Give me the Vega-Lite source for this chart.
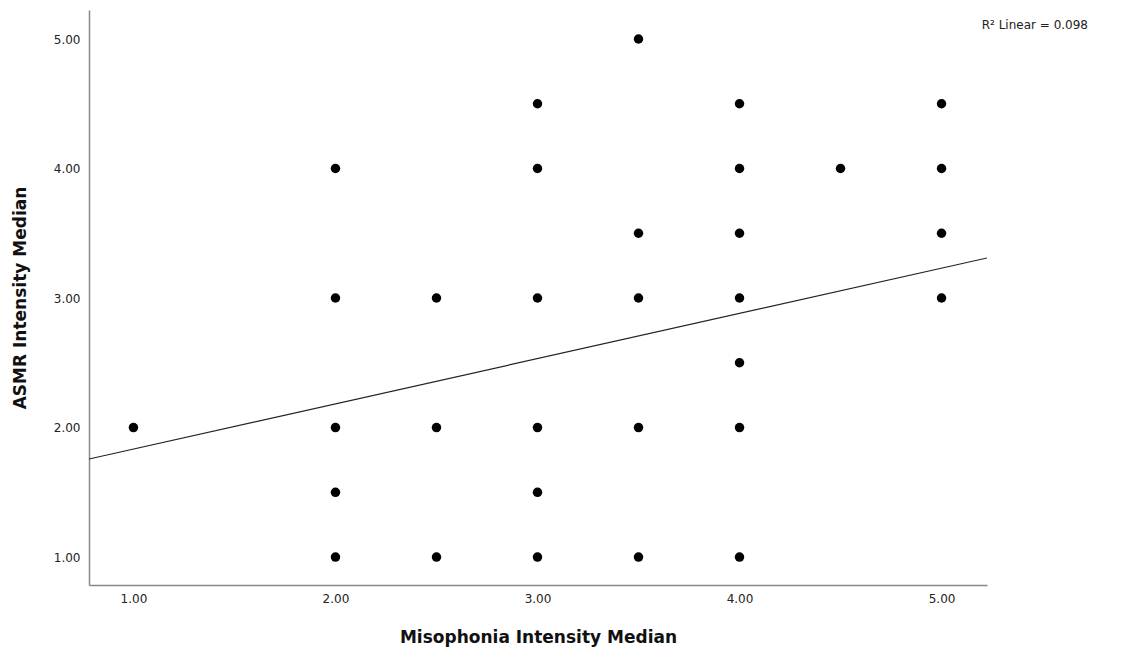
{
  "$schema": "https://vega.github.io/schema/vega-lite/v6.json",
  "width": 898,
  "height": 575,
  "autosize": "none",
  "padding": {"left": 89, "top": 10, "right": 143, "bottom": 70},
  "background": "white",
  "config": {
    "view": {"stroke": null},
    "font": "DejaVu Sans"
  },
  "title": {
    "text": "R² Linear = 0.098",
    "anchor": "end",
    "frame": "group",
    "dx": 101,
    "offset": -22,
    "fontSize": 12,
    "fontWeight": "normal",
    "color": "#222222",
    "font": "DejaVu Sans"
  },
  "datasets": {
    "points": [
      {"misophonia": 1.0, "asmr": 2.0},
      {"misophonia": 2.0, "asmr": 4.0},
      {"misophonia": 2.0, "asmr": 3.0},
      {"misophonia": 2.0, "asmr": 2.0},
      {"misophonia": 2.0, "asmr": 1.5},
      {"misophonia": 2.0, "asmr": 1.0},
      {"misophonia": 2.5, "asmr": 3.0},
      {"misophonia": 2.5, "asmr": 2.0},
      {"misophonia": 2.5, "asmr": 1.0},
      {"misophonia": 3.0, "asmr": 4.5},
      {"misophonia": 3.0, "asmr": 4.0},
      {"misophonia": 3.0, "asmr": 3.0},
      {"misophonia": 3.0, "asmr": 2.0},
      {"misophonia": 3.0, "asmr": 1.5},
      {"misophonia": 3.0, "asmr": 1.0},
      {"misophonia": 3.5, "asmr": 5.0},
      {"misophonia": 3.5, "asmr": 3.5},
      {"misophonia": 3.5, "asmr": 3.0},
      {"misophonia": 3.5, "asmr": 2.0},
      {"misophonia": 3.5, "asmr": 1.0},
      {"misophonia": 4.0, "asmr": 4.5},
      {"misophonia": 4.0, "asmr": 4.0},
      {"misophonia": 4.0, "asmr": 3.5},
      {"misophonia": 4.0, "asmr": 3.0},
      {"misophonia": 4.0, "asmr": 2.5},
      {"misophonia": 4.0, "asmr": 2.0},
      {"misophonia": 4.0, "asmr": 1.0},
      {"misophonia": 4.5, "asmr": 4.0},
      {"misophonia": 5.0, "asmr": 4.5},
      {"misophonia": 5.0, "asmr": 4.0},
      {"misophonia": 5.0, "asmr": 3.5},
      {"misophonia": 5.0, "asmr": 3.0}
    ],
    "fit": [
      {"misophonia": 0.78, "asmr": 1.757},
      {"misophonia": 5.225, "asmr": 3.309}
    ]
  },
  "layer": [
    {
      "data": {"name": "points"},
      "mark": {"type": "circle", "size": 90, "color": "black", "opacity": 1},
      "encoding": {
        "x": {
          "field": "misophonia", "type": "quantitative",
          "scale": {"domain": [0.78, 5.225], "nice": false, "zero": false},
          "axis": {
            "title": "Misophonia Intensity Median",
            "values": [1, 2, 3, 4, 5],
            "format": ".2f",
            "grid": false, "ticks": false,
            "domainColor": "#888888", "domainWidth": 1.5,
            "labelFontSize": 12, "labelColor": "#222222", "labelPadding": 8,
            "titleFontSize": 17, "titleFontWeight": "bold", "titleColor": "#111111",
            "titlePadding": 25
          }
        },
        "y": {
          "field": "asmr", "type": "quantitative",
          "scale": {"domain": [0.784, 5.224], "nice": false, "zero": false},
          "axis": {
            "title": "ASMR Intensity Median",
            "values": [1, 2, 3, 4, 5],
            "format": ".2f",
            "grid": false, "ticks": false,
            "domainColor": "#888888", "domainWidth": 1.5,
            "labelFontSize": 12, "labelColor": "#222222", "labelPadding": 9,
            "titleFontSize": 17, "titleFontWeight": "bold", "titleColor": "#111111",
            "titlePadding": 24
          }
        }
      }
    },
    {
      "data": {"name": "fit"},
      "mark": {"type": "line", "color": "#222222", "strokeWidth": 1.2, "clip": true},
      "encoding": {
        "x": {"field": "misophonia", "type": "quantitative"},
        "y": {"field": "asmr", "type": "quantitative"}
      }
    }
  ]
}
